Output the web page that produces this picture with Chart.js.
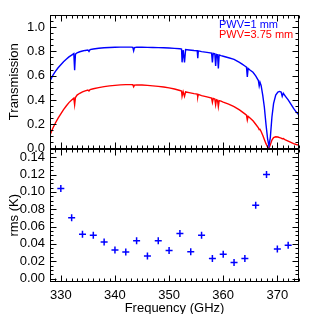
<!DOCTYPE html>
<html>
<head>
<meta charset="utf-8">
<script src="https://cdn.jsdelivr.net/npm/chart.js@4"></script>
<style>
html,body{margin:0;padding:0;background:#fff;}
#c{display:block;}
</style>
</head>
<body>
<canvas id="c" width="314" height="314"></canvas>
<script>
// Frequency grid (GHz) of the transmission curves
const freq = [
  328.0,328.5,329.0,329.5,330.0,330.5,331.0,331.5,332.0,332.4,
  332.55,332.7,333.0,333.5,334.0,334.5,335.0,335.2,335.4,336,
  337,338,339,340,341,342,343,343.3,343.45,343.6,
  344,345,346,347,348,349,350,351,352,352.3,
  352.4,352.6,352.85,353.05,353.7,354.6,355.2,355.3,355.4,356,
  357,357.85,358.0,358.15,358.45,358.6,358.75,358.95,359.1,359.25,
  359.6,360,361,362,363,363.5,364.0,364.3,364.45,364.6,
  365,365.5,366,366.5,366.65,366.8,367.0,367.3,367.6,367.9,
  368.2,368.45,368.7,369.0,369.3,369.7,370.1,370.4,370.7,370.9,
  371.1,371.5,372,372.5,373,373.5,374
];
// Transmission, PWV = 1 mm
const transPWV1 = [
  0.557,0.60,0.635,0.665,0.69,0.715,0.735,0.755,0.77,0.782,
  0.645,0.777,0.789,0.797,0.803,0.808,0.812,0.80,0.815,0.820,
  0.826,0.830,0.832,0.834,0.835,0.835,0.835,0.833,0.805,0.831,
  0.834,0.834,0.833,0.832,0.831,0.830,0.828,0.825,0.822,0.820,
  0.71,0.812,0.71,0.815,0.812,0.808,0.806,0.745,0.804,0.798,
  0.792,0.786,0.71,0.783,0.78,0.68,0.775,0.772,0.66,0.77,
  0.765,0.76,0.748,0.735,0.71,0.695,0.68,0.67,0.59,0.66,
  0.645,0.628,0.598,0.56,0.515,0.545,0.52,0.44,0.34,0.2,
  0.08,0.02,0.09,0.26,0.37,0.44,0.465,0.47,0.465,0.43,
  0.455,0.43,0.40,0.365,0.33,0.30,0.276
];
// Transmission, PWV = 3.75 mm
const transPWV375 = [
  0.11,0.165,0.21,0.25,0.285,0.32,0.35,0.378,0.40,0.415,
  0.36,0.42,0.44,0.455,0.467,0.475,0.482,0.474,0.485,0.492,
  0.502,0.51,0.516,0.52,0.524,0.526,0.526,0.525,0.508,0.522,
  0.524,0.523,0.52,0.516,0.512,0.507,0.50,0.49,0.478,0.474,
  0.43,0.468,0.43,0.466,0.46,0.452,0.448,0.425,0.446,0.436,
  0.425,0.415,0.38,0.412,0.407,0.36,0.402,0.398,0.345,0.395,
  0.39,0.382,0.365,0.345,0.318,0.302,0.285,0.275,0.235,0.265,
  0.25,0.228,0.2,0.17,0.155,0.158,0.14,0.11,0.075,0.04,
  0.012,0.002,0.03,0.07,0.09,0.097,0.095,0.09,0.085,0.08,
  0.082,0.07,0.06,0.05,0.04,0.033,0.028
];
// rms per channel
const rmsFreq = [330,332,334,336,338,340,342,344,346,348,350,352,354,356,358,360,362,364,366,368,370,372];
const rmsK = [0.104,0.070,0.051,0.050,0.042,0.033,0.0305,0.0437,0.026,0.0437,0.0324,0.052,0.0308,0.0498,0.023,0.028,0.0185,0.023,0.0844,0.120,0.034,0.0385];
// Axis ranges / ticks
const xRange = [328, 374];
const transRange = [0, 1.1];
const rmsRange = [-0.004, 0.150];
const legendLabels = ['PWV=1 mm', 'PWV=3.75 mm'];
const axisTitles = {x: 'Frequency (GHz)', top: 'Transmission', bottom: 'rms (K)'};

const BLUE = '#0000ff', RED = '#ff0000';
const FONT = '"Liberation Sans", Arial, sans-serif';

Chart.defaults.font.family = FONT;
Chart.defaults.font.size = 13;
Chart.defaults.color = '#000';

function ln(ctx, x1, y1, x2, y2) {
  ctx.beginPath(); ctx.moveTo(x1, y1); ctx.lineTo(x2, y2); ctx.stroke();
}

const framePlugin = {
  id: 'frame',
  afterDatasetsDraw(chart) {
    const ctx = chart.ctx, xs = chart.scales.x, a = chart.chartArea;
    ctx.save();
    ctx.strokeStyle = '#000';
    ctx.lineWidth = 1;
    const L = Math.round(a.left) + 0.5, R = Math.round(a.right) - 0.5;
    const panels = [['yT', 0.2, 0.05], ['yR', 0.02, 0.005]];
    for (const [id, step, minor] of panels) {
      const s = chart.scales[id];
      const top = Math.round(s.top) + 0.5, bot = Math.round(s.bottom) - 0.5;
      ctx.strokeRect(L, top, R - L, bot - top);
      const n0 = Math.ceil(s.min / minor - 1e-6), n1 = Math.floor(s.max / minor + 1e-6);
      for (let i = n0; i <= n1; i++) {
        const v = i * minor;
        const y = Math.round(s.getPixelForValue(v)) + 0.5;
        const major = Math.abs(v / step - Math.round(v / step)) < 1e-6;
        const len = major ? 6 : 3;
        ln(ctx, L, y, L + len, y);
        ln(ctx, R, y, R - len, y);
      }
      for (let f = Math.ceil(xs.min); f <= Math.floor(xs.max); f++) {
        const x = Math.round(xs.getPixelForValue(f)) + 0.5;
        const len = (f % 10 === 0) ? 6 : 3;
        ln(ctx, x, top, x, top + len);
        ln(ctx, x, bot, x, bot - len);
      }
    }
    ctx.restore();
  },
  afterDraw(chart) {
    const ctx = chart.ctx, a = chart.chartArea;
    const yT = chart.scales.yT, yR = chart.scales.yR;
    ctx.save();
    ctx.fillStyle = '#000';
    ctx.font = '13px ' + FONT;
    ctx.textAlign = 'center';
    ctx.textBaseline = 'middle';
    ctx.fillText(axisTitles.x, (a.left + a.right) / 2, 308);
    ctx.save();
    ctx.translate(14, (yT.top + yT.bottom) / 2);
    ctx.rotate(-Math.PI / 2);
    ctx.fillText(axisTitles.top, 0, 0);
    ctx.restore();
    ctx.save();
    ctx.translate(14, (yR.top + yR.bottom) / 2);
    ctx.rotate(-Math.PI / 2);
    ctx.fillText(axisTitles.bottom, 0, 0);
    ctx.restore();
    ctx.font = '11px ' + FONT;
    ctx.textAlign = 'left';
    ctx.fillStyle = BLUE;
    ctx.fillText(legendLabels[0], 219, 25);
    ctx.fillStyle = RED;
    ctx.fillText(legendLabels[1], 219, 35);
    ctx.restore();
  }
};

const pts = (xs, ys) => xs.map((x, i) => ({x, y: ys[i]}));

new Chart(document.getElementById('c'), {
  type: 'line',
  data: {
    datasets: [
      {label: legendLabels[0], data: pts(freq, transPWV1), yAxisID: 'yT', borderColor: BLUE, borderWidth: 1.4, pointRadius: 0, tension: 0, fill: false},
      {label: legendLabels[1], data: pts(freq, transPWV375), yAxisID: 'yT', borderColor: RED, borderWidth: 1.4, pointRadius: 0, tension: 0, fill: false},
      {label: 'rms', data: pts(rmsFreq, rmsK), yAxisID: 'yR', showLine: false, pointStyle: 'cross', pointRadius: 3.5, borderColor: BLUE, backgroundColor: BLUE, pointBorderWidth: 1.5}
    ]
  },
  options: {
    responsive: false,
    animation: false,
    events: [],
    layout: {padding: {left: 0, top: 15, right: 15, bottom: 0}},
    plugins: {legend: {display: false}, tooltip: {enabled: false}},
    scales: {
      x: {
        type: 'linear', position: 'bottom', min: xRange[0], max: xRange[1],
        grid: {display: false, drawTicks: false}, border: {display: false},
        ticks: {stepSize: 10, includeBounds: false, autoSkip: false, maxRotation: 0, padding: 6, callback: v => String(v)},
        afterFit: s => { s.height = 32; }
      },
      yR: {
        type: 'linear', position: 'left', stack: 'panels', stackWeight: 1,
        min: rmsRange[0], max: rmsRange[1],
        grid: {display: false, drawTicks: false}, border: {display: false},
        ticks: {stepSize: 0.02, includeBounds: false, autoSkip: false, padding: 5, callback: v => v.toFixed(2)},
        afterFit: s => { s.width = 50; }
      },
      yT: {
        type: 'linear', position: 'left', stack: 'panels', stackWeight: 1,
        min: transRange[0], max: transRange[1],
        grid: {display: false, drawTicks: false}, border: {display: false},
        ticks: {stepSize: 0.2, includeBounds: false, autoSkip: false, padding: 5, callback: v => v.toFixed(1)},
        afterFit: s => { s.width = 50; }
      }
    }
  },
  plugins: [framePlugin]
});
</script>
</body>
</html>
